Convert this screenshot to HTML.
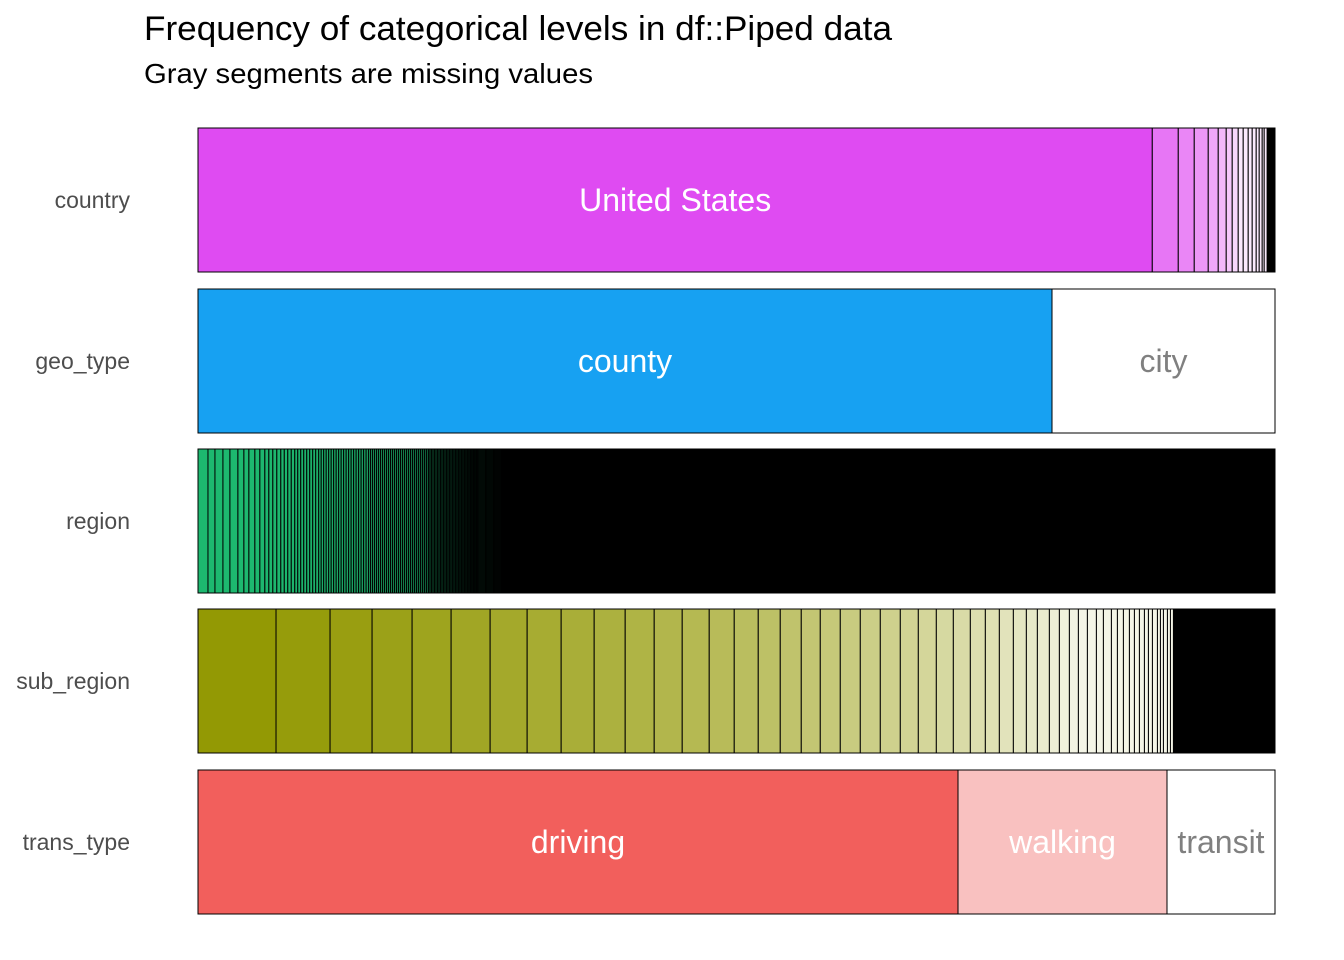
<!DOCTYPE html>
<html><head><meta charset="utf-8"><style>
html,body{margin:0;padding:0;background:#fff;}
svg{display:block;font-family:"Liberation Sans",Arial,sans-serif;}
</style></head><body>
<svg id="chart" width="1344" height="960" viewBox="0 0 1344 960">
<text x="144" y="40" font-size="34" textLength="748" lengthAdjust="spacingAndGlyphs" fill="#000">Frequency of categorical levels in df::Piped data</text>
<text x="144" y="83" font-size="28" textLength="449" lengthAdjust="spacingAndGlyphs" fill="#000">Gray segments are missing values</text>
<g id="bars"></g>
</svg>
<script>
const columns = ["country","geo_type","region","sub_region","trans_type"];
const countryValues = [955,26,16,14,10,8,6,6,5,5,4,4,3,3,2,3,0.6,0.6,0.6,0.6,0.6,0.6,0.6,0.6,0.6,0.6,0.6,0.6,0.6];
const countryLabels = ["United States"];
const geoValues = [854,223];
const geoLabels = ["county","city"];
const regionValues = [10,7,8,7,8,6,5,6,5,5,4,4,4,4,3.5,3.5,3.5,3.5,3,3,3,3,3,3,3,3,
2.5,2.5,2.5,2.5,2.5,2.5,2.5,2.5,2.5,2.5,2.5,2.5,2.5,2.5,2.5,2.5,2.5,2.5,2.5,2.5,
2,2,2,2,2,2,2,2,2,2,2,2,2,2,2,2,2,2,2,2,2,2,2,2,2,2,2,2,2,2,
1.5,1.5,1.5,1.5,1.5,1.5,1.5,1.5,1.5,1.5,1.5,1.5,1.5,1.5,1.5,1.5,1.5,1.5,1.5,1.5,1.5,1.5,1.5,1.5,1.5,1.5,1.5,1.5,1.5,1.5,1.5,1.5,1.5,
8,8,8,8,8,8,8,8,8,8,8,8,8,8,8,8,8,8,8,8,8,8,8,8,8,8,8,8,8,8,8,8,8,8,8,8,8,8,8,8,8,8,8,8,8,8,8,8,8,8,
8,8,8,8,8,8,8,8,8,8,8,8,8,8,8,8,8,8,8,8,8,8,8,8,8,8,8,8,8,8,8,8,8,8,8,8,8,8,8,8,8,8,8,8,8,8,8,8,8,7];
const subValues = [78,54,42,40,39,39,37,34,33,31,29,28,27,25,24,22,21,19,20,20,20,20,18,18,17,17,15,14,14,13,11,12,10,10,9,9,9,7,8,6,6,6,5,5,5,4,4,5,3,3,4,3,3,
1.5,1.5,1.5,1.5,1.5,1.5,1.5,1.5,1.5,1.5,1.5,1.5,1.5,
4,4,4,4,4,4,4,4,4,4,4,4,4,4,4,4,4,4,4,4,2];
const transValues = [760,209,108];
const transLabels = ["driving","walking","transit"];

const X0 = 198, X1 = 1275;
const rowTop = [128,289,449,609,770], rowH = 144;
const svg = document.getElementById('bars');
const NS = "http://www.w3.org/2000/svg";
function hex(c){return [parseInt(c.slice(1,3),16),parseInt(c.slice(3,5),16),parseInt(c.slice(5,7),16)];}
function mix(a,b,t){const A=hex(a),B=hex(b);return 'rgb('+A.map((v,i)=>Math.round(v+(B[i]-v)*t)).join(',')+')';}
function xScale(v,total){return X0 + v/total*(X1-X0);}

function drawRow(idx, values, fillFn, labels, labelColors){
  const total = values.reduce((a,b)=>a+b,0);
  const y = rowTop[idx];
  const lab = document.createElementNS(NS,'text');
  
  
  lab.setAttribute('x',130); lab.setAttribute('y',y+rowH/2+8);
  lab.setAttribute('text-anchor','end'); lab.setAttribute('font-size','23'); lab.setAttribute('fill','#4d4d4d');
  lab.textContent = columns[idx]; svg.appendChild(lab);
  let cum = 0;
  values.forEach((v,i)=>{
    const xa = xScale(cum,total), xb = xScale(cum+v,total);
    const r = document.createElementNS(NS,'rect');
    
    
    r.setAttribute('x',xa); r.setAttribute('y',y); r.setAttribute('width',Math.max(xb-xa,0.1)); r.setAttribute('height',rowH);
    r.setAttribute('fill',fillFn(i,values.length)); r.setAttribute('stroke','#000'); r.setAttribute('stroke-width','1');
    svg.appendChild(r);
    if(labels && labels[i]){
      const t = document.createElementNS(NS,'text');
      
      
      t.setAttribute('x',(xa+xb)/2); t.setAttribute('y',y+rowH/2+11);
      t.setAttribute('text-anchor','middle'); t.setAttribute('font-size','32');
      t.setAttribute('fill',labelColors[i]); t.textContent = labels[i];
      svg.appendChild(t);
    }
    cum += v;
  });
}
drawRow(0,countryValues,(i)=> i>=16 ? '#000' : (i===0 ? '#DF4BF2' : mix('#DF4BF2','#ffffff',Math.min(0.88,0.15+i*0.09))),countryLabels,['#fff']);
drawRow(1,geoValues,(i)=> i===0?'#17A1F2':'#ffffff',geoLabels,['#fff','#808080']);
drawRow(2,regionValues,(i)=> i>=112 ? '#000' : mix('#1DB86F','#000000',Math.min(1,Math.pow(i/112,2))),null,null);
drawRow(3,subValues,(i)=> i>=53 ? '#000' : mix('#939904','#ffffff',Math.min(0.9,i*0.026)),null,null);
drawRow(4,transValues,(i)=> ['#F25F5C','#F9C1C0','#ffffff'][i],transLabels,['#fff','#fff','#808080']);
</script>
</body></html>
